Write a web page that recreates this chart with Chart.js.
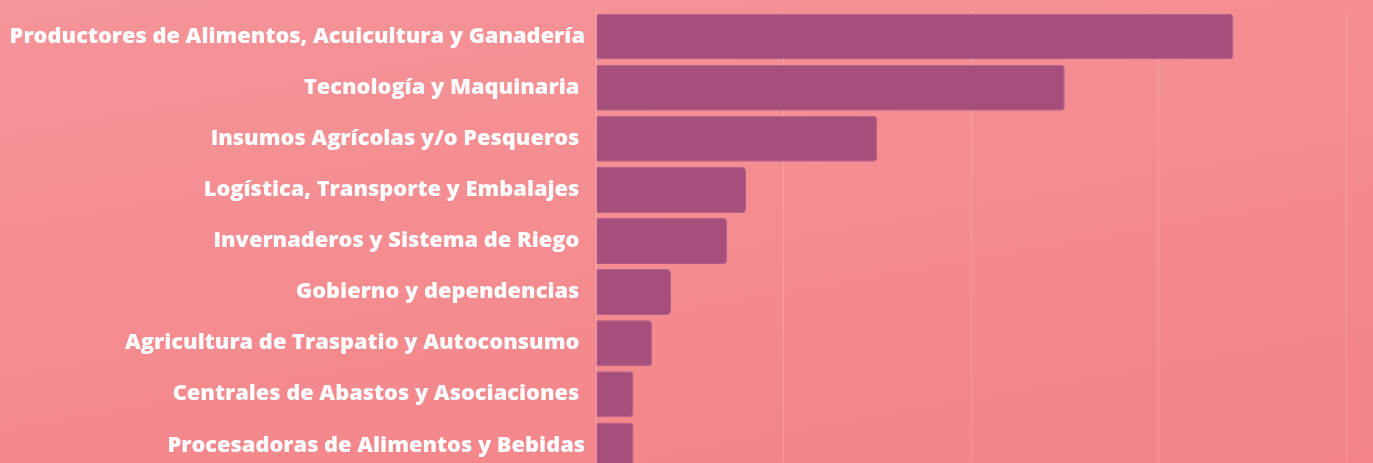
<!DOCTYPE html>
<html>
<head>
<meta charset="utf-8">
<script src="https://cdn.jsdelivr.net/npm/chart.js@4"></script>
<style>
  html, body { margin: 0; padding: 0; overflow: hidden; }
  body {
    width: 1373px; height: 463px;
    background: linear-gradient(170deg, #f59499 0%, #f48a8e 60%, #f38388 100%);
  }
  .wrap { position: absolute; left: 0; top: -5px; width: 1373px; height: 492px; }
</style>
</head>
<body>
<div class="wrap"><canvas id="grafico"></canvas></div>
<script>
// categorias (con espacio final como en el original)
const categorias = [
  "Productores de Alimentos, Acuicultura y Ganadería",
  "Tecnología y Maquinaria ",
  "Insumos Agrícolas y/o Pesqueros ",
  "Logística, Transporte y Embalajes ",
  "Invernaderos y Sistema de Riego ",
  "Gobierno y dependencias ",
  "Agricultura de Traspatio y Autoconsumo ",
  "Centrales de Abastos y Asociaciones ",
  "Procesadoras de Alimentos y Bebidas"
];
const valores = [34, 25, 15, 8, 7, 4, 3, 2, 2];
const ejeMax = 40;
const ejePaso = 10;

const ctx = document.getElementById('grafico').getContext('2d');
new Chart(ctx, {
  type: 'bar',
  data: {
    labels: categorias,
    datasets: [{
      data: valores,
      backgroundColor: "#a74f7c",
      borderColor: "#b0608a",
      borderWidth: 1,
      borderRadius: 4,
      borderSkipped: 'start',
      barPercentage: 0.9,
      categoryPercentage: 1.0
    }]
  },
  options: {
    indexAxis: 'y',
    responsive: true,
    maintainAspectRatio: false,
    animation: false,
    layout: { padding: { top: 0, right: 27, bottom: 0, left: 0 } },
    plugins: {
      legend: { display: false },
      tooltip: { enabled: false }
    },
    scales: {
      x: {
        min: 0,
        max: ejeMax,
        ticks: { display: false, stepSize: ejePaso },
        grid: { color: "rgba(255,255,255,0.18)", drawTicks: false },
        border: { display: false }
      },
      y: {
        afterFit: function (scale) { scale.width = 596; },
        ticks: {
          color: "#ffffff",
          font: { family: "'Open Sans'", weight: 800, size: 21.8 }
        },
        grid: { display: false },
        border: { display: true, color: "rgba(255,255,255,0.18)" }
      }
    }
  }
});
</script>
</body>
</html>
